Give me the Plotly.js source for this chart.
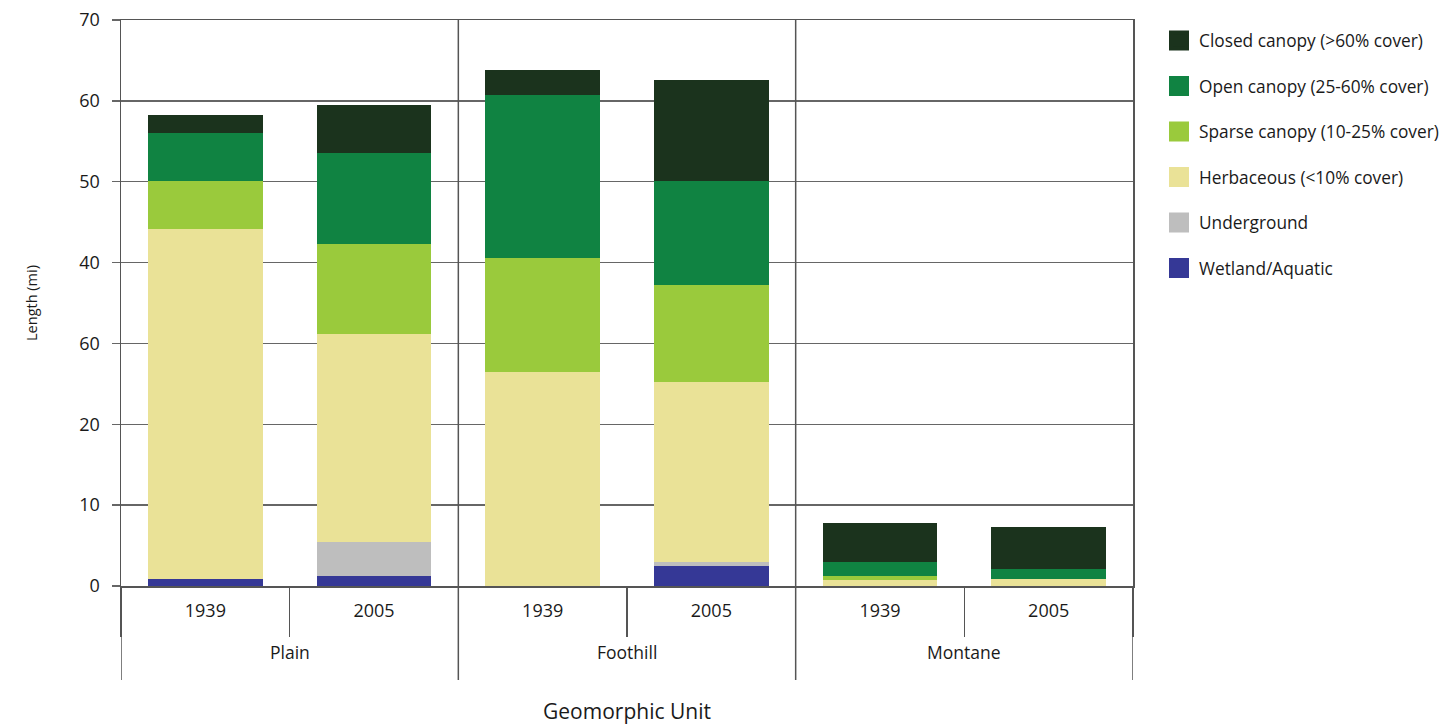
<!DOCTYPE html>
<html>
<head>
<meta charset="utf-8">
<script src="https://cdn.plot.ly/plotly-3.0.1.min.js"></script>
<style>html,body{margin:0;padding:0;background:#fff;}#chart{width:1446px;height:727px;}</style>
</head>
<body>
<div id="chart"></div>
<script>
const units = ["Plain", "Plain", "Foothill", "Foothill", "Montane", "Montane"];
const years = ["1939", "2005", "1939", "2005", "1939", "2005"];

const wetland     = [0.9, 1.2, 0.0, 2.5, 0.0, 0.0];
const underground = [0.0, 4.3, 0.0, 0.5, 0.0, 0.0];
const herbaceous  = [43.2, 25.7, 26.5, 22.2, 0.8, 0.9];
const sparse      = [6.0, 11.1, 14.1, 12.0, 0.4, 0.0];
const openCanopy  = [5.9, 11.2, 20.1, 12.9, 1.8, 1.2];
const closed      = [2.3, 6.0, 3.1, 12.5, 4.8, 5.2];

const seriesNames = [
  "Wetland/Aquatic",
  "Underground",
  "Herbaceous (<10% cover)",
  "Sparse canopy (10-25% cover)",
  "Open canopy (25-60% cover)",
  "Closed canopy (>60% cover)"
];
const seriesData = [wetland, underground, herbaceous, sparse, openCanopy, closed];
const seriesColors = ["#353896", "#BEBEBE", "#EAE297", "#9ACA3C", "#108342", "#1B331D"];

const yTickVals = [0, 10, 20, 30, 40, 50, 60, 70];
const yTickText = ["0", "10", "20", "60", "40", "50", "60", "70"];

// unique category keys built from the arrays; ticks show only the year
const catKeys = units.map((u, i) => u + " " + years[i]);
const groupNames = units.filter((u, i) => units.indexOf(u) === i);

const font = "'Open Sans', 'Noto Sans', sans-serif";
const textColor = "#1a1a1a";
const lineColor = "#555";

const traces = [];
seriesData.forEach((vals, i) => {
  traces.push({
    type: "bar",
    name: seriesNames[i],
    x: catKeys,
    y: vals,
    marker: { color: seriesColors[i], line: { width: 0 } },
    width: 0.68,
    showlegend: false,
    hoverinfo: "y+name"
  });
});
// legend entries (large square swatches), top item = last series
seriesData.forEach((vals, i) => {
  traces.push({
    type: "scatter",
    mode: "markers",
    name: seriesNames[i],
    x: [null],
    y: [null],
    legendgroup: "g" + i,
    legendrank: seriesData.length - i,
    marker: { symbol: "square", size: 18, color: seriesColors[i], line: { color: seriesColors[i], width: 4 } },
    showlegend: true,
    hoverinfo: "skip"
  });
});

// group annotations and divider shapes computed from category indices
const annotations = [];
const shapes = [];
const axisBottomPx = 94; // divider length below the axis
const plotHeightPx = 727 - 20 - 141;
groupNames.forEach(g => {
  const idx = units.map((u, i) => u === g ? i : -1).filter(i => i >= 0);
  const center = (idx[0] + idx[idx.length - 1]) / 2;
  annotations.push({
    text: g, xref: "x", yref: "paper", x: center, y: -66 / plotHeightPx,
    xanchor: "center", yanchor: "middle", showarrow: false,
    font: { family: font, size: 17.5, color: textColor }
  });
});
const boundaries = [-0.5];
groupNames.forEach(g => {
  const last = units.lastIndexOf(g);
  boundaries.push(last + 0.5);
});
boundaries.forEach((b, k) => {
  const inner = k > 0 && k < boundaries.length - 1;
  shapes.push({
    type: "line", xref: "x", yref: "paper", x0: b, x1: b,
    y0: -axisBottomPx / plotHeightPx, y1: inner ? 1 : 0,
    line: { color: lineColor, width: 1.5 }
  });
});

const layout = {
  width: 1446,
  height: 727,
  margin: { l: 121, r: 313, t: 20, b: 141, autoexpand: false },
  barmode: "stack",
  paper_bgcolor: "#ffffff",
  plot_bgcolor: "#ffffff",
  font: { family: font, size: 17, color: textColor },
  showlegend: true,
  legend: {
    x: 1.0257, xanchor: "left",
    y: 0.995, yanchor: "top",
    traceorder: "grouped",
    tracegroupgap: 20,
    itemwidth: 30,
    font: { family: font, size: 17.3, color: textColor },
    bgcolor: "rgba(0,0,0,0)"
  },
  xaxis: {
    type: "category",
    range: [-0.5, catKeys.length - 0.5],
    tickvals: catKeys,
    ticktext: years,
    showgrid: false,
    showline: true,
    linecolor: lineColor,
    linewidth: 1.5,
    mirror: true,
    ticks: "outside",
    tickson: "boundaries",
    ticklen: 49,
    tickcolor: lineColor,
    tickwidth: 1.5,
    ticklabelstandoff: 8,
    tickfont: { family: font, size: 18, color: textColor },
    title: { text: "Geomorphic Unit", font: { family: font, size: 21, color: textColor }, standoff: 83 }
  },
  yaxis: {
    range: [0, 70],
    tickvals: yTickVals,
    ticktext: yTickText,
    showgrid: true,
    gridcolor: "#666",
    gridwidth: 1.5,
    showline: true,
    linecolor: lineColor,
    linewidth: 1.5,
    mirror: true,
    ticks: "outside",
    ticklen: 8,
    tickcolor: "#666",
    tickwidth: 1.5,
    ticklabelstandoff: 8,
    zeroline: false,
    tickfont: { family: font, size: 18, color: textColor },
    title: { text: "Length (mi)", font: { family: font, size: 14.5, color: textColor }, standoff: 38 }
  },
  annotations: annotations,
  shapes: shapes
};

Plotly.newPlot("chart", traces, layout, { displayModeBar: false, staticPlot: true });
</script>
</body>
</html>
